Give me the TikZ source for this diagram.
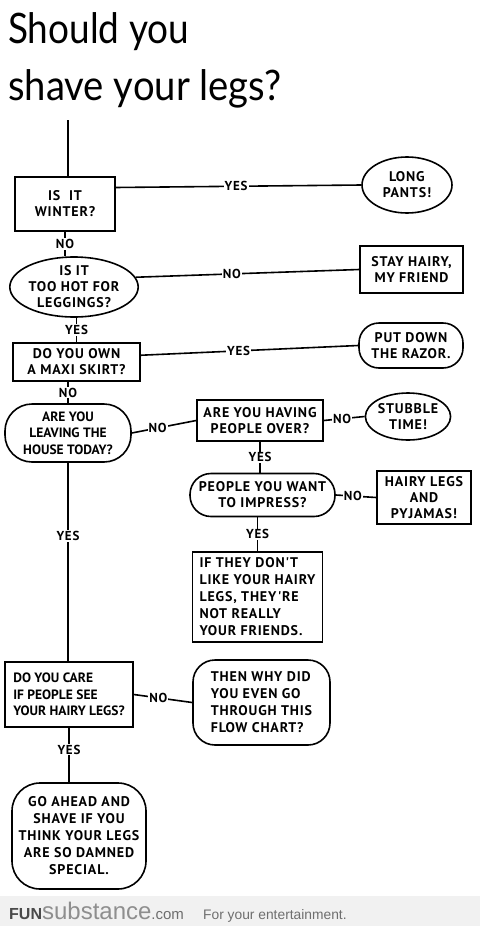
\documentclass[tikz,border=0pt]{standalone}
\usepackage{fontspec}
\setmainfont{Liberation Sans}
\newfontfamily\titlefont{Lato}
\newfontfamily\handfont[LetterSpace=6]{PT Sans}
\newfontfamily\handtight[LetterSpace=0]{PT Sans}
\usetikzlibrary{shapes.geometric}
\definecolor{footbg}{HTML}{F1F1F1}
\definecolor{fundark}{HTML}{4A4A4A}
\definecolor{funlight}{HTML}{8E8E8E}
\definecolor{tagc}{HTML}{6E6E6E}
\tikzset{
  every node/.style={font=\handfont\bfseries\fontsize{14}{16}\selectfont},
  boxnode/.style={draw, line width=1.6pt, rectangle, inner sep=0pt, align=center},
  ovalnode/.style={draw, line width=1.6pt, ellipse, inner sep=0pt, align=center},
  roundnode/.style={draw, line width=1.6pt, rectangle, rounded corners=22pt, inner sep=0pt, align=center},
  conn/.style={line width=1.6pt},
  tallnode/.style={font=\handfont\bfseries\fontsize{14}{17}\selectfont},
  tightnode/.style={font=\handtight\bfseries\fontsize{13.5}{16.5}\selectfont},
  lbl/.style={fill=white, inner sep=1pt, font=\handfont\bfseries\fontsize{13}{14}\selectfont}
}
\begin{document}
\begin{tikzpicture}[x=1pt,y=-1pt]
\useasboundingbox (0,0) rectangle (480,926);
% title
\node[anchor=base west, inner sep=0pt, font=\titlefont\fontsize{42}{44}\selectfont] (t1) at (8,43) {\scalebox{0.88}[1]{Should you}};
\node[anchor=base west, inner sep=0pt, font=\titlefont\fontsize{42}{44}\selectfont] (t2) at (8,100) {\scalebox{0.91}[1]{shave your legs?}};
\coordinate (start) at (68,120);
% nodes
\node[boxnode, minimum width=100pt, minimum height=54pt] (b1) at (65,204) {IS\ \ IT\\WINTER?};
\node[ovalnode, minimum width=90pt, minimum height=56pt] (lp) at (407,185) {LONG\\PANTS!};
\node[ovalnode, minimum width=124pt, minimum height=60pt] (e2) at (74,287) {IS IT\\TOO HOT FOR\\LEGGINGS?};
\node[boxnode, minimum width=103pt, minimum height=47pt] (sh) at (411.5,269.5) {STAY HAIRY,\\MY FRIEND};
\node[boxnode, minimum width=127pt, minimum height=38pt] (b3) at (76.5,362) {DO YOU OWN\\A MAXI SKIRT?};
\node[roundnode, rounded corners=20pt, minimum width=104pt, minimum height=45pt] (pd) at (411,345.5) {PUT DOWN\\THE RAZOR.};
\node[roundnode, tightnode, rounded corners=27pt, minimum width=126pt, minimum height=58pt] (e4) at (68,433) {ARE YOU\\LEAVING THE\\HOUSE TODAY?};
\node[boxnode, minimum width=126pt, minimum height=41pt] (b5) at (260,420.5) {ARE YOU HAVING\\PEOPLE OVER?};
\node[ovalnode, minimum width=84pt, minimum height=47pt] (st) at (408,416.5) {STUBBLE\\TIME!};
\node[roundnode, rounded corners=21pt, minimum width=145pt, minimum height=43pt] (e6) at (262.5,495) {PEOPLE YOU WANT\\TO IMPRESS?};
\node[boxnode, minimum width=94pt, minimum height=53pt] (hl) at (424,497.5) {HAIRY LEGS\\AND\\PYJAMAS!};
\node[boxnode, tallnode, minimum width=130pt, minimum height=90pt, align=left] (b7) at (257.5,597) {IF THEY DON'T\\LIKE YOUR HAIRY\\LEGS, THEY'RE\\NOT REALLY\\YOUR FRIENDS.};
\node[boxnode, tightnode, minimum width=128pt, minimum height=65pt, align=left] (b8) at (69,694.5) {DO YOU CARE\\IF PEOPLE SEE\\YOUR HAIRY LEGS?};
\node[roundnode, tallnode, minimum width=137pt, minimum height=85pt, align=left] (r9) at (261.5,702.5) {THEN WHY DID\\YOU EVEN GO\\THROUGH THIS\\FLOW CHART?};
\node[roundnode, tallnode, rounded corners=28pt, minimum width=134pt, minimum height=106pt] (r10) at (79,836) {GO AHEAD AND\\SHAVE IF YOU\\THINK YOUR LEGS\\ARE SO DAMNED\\SPECIAL.};
% connectors
\draw[conn] (start) -- (start |- b1.north);
\draw[conn] (b1.18) -- node[lbl, pos=0.49] {YES} (lp.west);
\draw[conn] (b1.south) -- node[lbl] {NO} (b1.south |- e2.north);
\draw[conn] (e2.9) -- node[lbl, pos=0.43] {NO} (sh.west);
\draw[conn] (e2.south -| b3.north) -- node[lbl] {YES} (b3.north);
\draw[conn] (b3.6) -- node[lbl, pos=0.45] {YES} (pd.west);
\draw[conn] (b3.south -| e4.north) -- node[lbl] {NO} (e4.north);
\draw[conn] (e4.east) -- node[lbl, pos=0.4] {NO} (b5.west);
\draw[conn] (b5.east) -- node[lbl, pos=0.45] {NO} (st.west);
\draw[conn] (b5.south) -- node[lbl] {YES} (b5.south |- e6.north);
\draw[conn] (e6.east) -- node[lbl, pos=0.42] {NO} (hl.west);
\draw[conn] (e6.south -| b7.north) -- node[lbl] {YES} (b7.north);
\draw[conn] (e4.south) -- node[lbl, pos=0.37] {YES} (e4.south |- b8.north);
\draw[conn] (b8.east) -- node[lbl, pos=0.42] {NO} (r9.west);
\draw[conn] (b8.south) -- node[lbl, pos=0.4] {YES} (b8.south |- r10.north);
% footer
\fill[footbg] (0,896) rectangle (480,926);
\node[anchor=base west, inner sep=0pt, font=\fontsize{24}{26}\selectfont] (fs) at (9,919) {\textcolor{fundark}{\fontsize{16}{18}\selectfont\bfseries FUN}\textcolor{funlight}{substance}\textcolor{tagc}{\fontsize{15}{17}\selectfont .com}};
\node[anchor=base west, inner sep=0pt, text=tagc, font=\fontsize{13.8}{15}\selectfont] (tag) at (203,919) {For your entertainment.};
\end{tikzpicture}
\end{document}
